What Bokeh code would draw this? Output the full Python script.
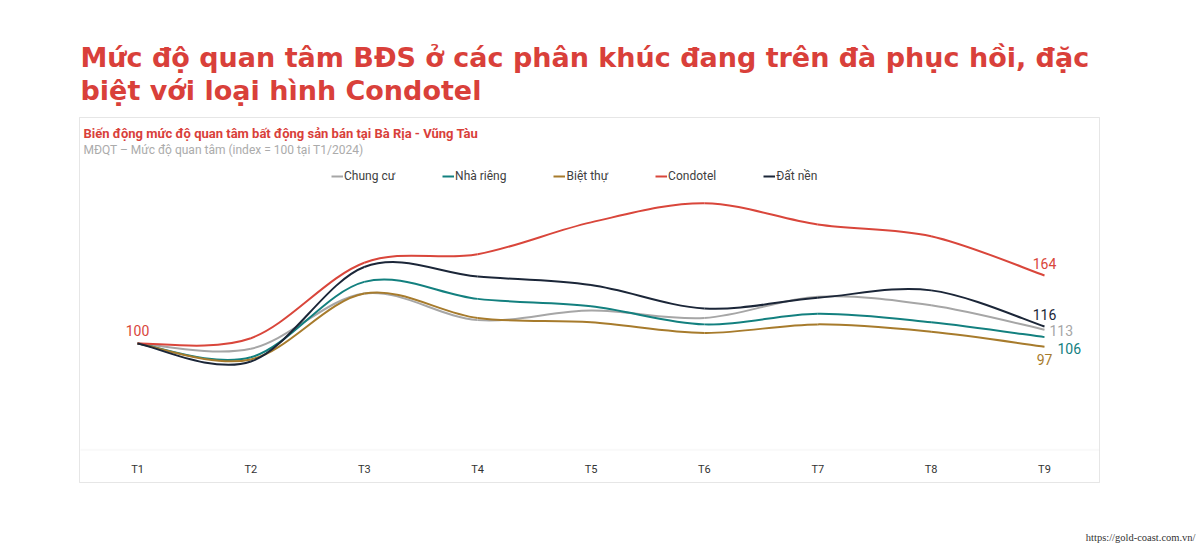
from bokeh.plotting import figure
from bokeh.models import (Range1d, LinearAxis, FixedTicker, Label, Legend,
                          LegendItem, ColumnDataSource, Title, BoxAnnotation)
from bokeh.core.properties import value
from bokeh.embed import file_html
from bokeh.resources import INLINE

# ---------------- data ----------------
months = ["T1", "T2", "T3", "T4", "T5", "T6", "T7", "T8", "T9"]
series_names = ["Chung cư", "Nhà riêng", "Biệt thự", "Condotel", "Đất nền"]
chung_cu = [100, 95, 147, 122, 131, 124, 144, 136, 113]
nha_rieng = [100, 87, 158, 142, 135, 118, 128, 120, 106]
biet_thu = [100, 85, 147, 124, 120, 110, 118, 111, 97]
condotel = [100, 105, 176, 184, 214, 232, 212, 201, 164]
dat_nen = [100, 83, 172, 163, 155, 133, 143, 150, 116]

title_lines = ["Mức độ quan tâm BĐS ở các phân khúc đang trên đà phục hồi, đặc",
               "biệt với loại hình Condotel"]
subtitle = "Biến động mức độ quan tâm bất động sản bán tại Bà Rịa - Vũng Tàu"
subtitle2 = "MĐQT – Mức độ quan tâm (index = 100 tại T1/2024)"
source_url = "https://gold-coast.com.vn/"

# ---------------- styles ----------------
colors = {"Chung cư": "#a6a6a6", "Nhà riêng": "#13807f", "Biệt thự": "#a77b2c",
          "Condotel": "#d9463b", "Đất nền": "#1b2638"}
# end-label placement (screen px offsets, alignment)
end_label_style = {
    "Condotel": (0, -12, "center"),
    "Đất nền": (0, -12, "center"),
    "Chung cư": (5, 1, "left"),
    "Nhà riêng": (13, 11, "left"),
    "Biệt thự": (0, 13, "center"),
}
RED = "#d9403a"
TITLE_FONT = "DejaVu Sans"

values = {"Chung cư": chung_cu, "Nhà riêng": nha_rieng, "Biệt thự": biet_thu,
          "Condotel": condotel, "Đất nền": dat_nen}
xs = list(range(1, len(months) + 1))

# frame covers the full width and everything below the page title
p = figure(width=1200, height=545, output_backend="svg", toolbar_location=None,
           x_axis_location=None, y_axis_location=None,
           x_range=Range1d(-0.2084, 10.376), y_range=Range1d(-90.12, 313.65),
           min_border_left=0, min_border_right=0, min_border_top=116,
           min_border_bottom=0)
p.grid.visible = False
p.outline_line_color = None
p.background_fill_color = "white"
p.border_fill_color = "white"

# chart box (screen px, frame-relative, y from bottom)
p.add_layout(BoxAnnotation(left=79, right=1099, top=428, bottom=63,
                           left_units="screen", right_units="screen",
                           top_units="screen", bottom_units="screen",
                           fill_alpha=0, line_color="#acacac", line_width=1))
# baseline at value 0 across the box width
p.add_layout(BoxAnnotation(left=80, right=1099, top=0, bottom=0,
                           left_units="screen", right_units="screen",
                           fill_alpha=0, line_color="#ebebeb", line_width=2))

# x axis placed at value 0 inside the frame
xaxis = LinearAxis(fixed_location=0, ticker=FixedTicker(ticks=xs),
                   major_label_overrides={x: m for x, m in zip(xs, months)})
xaxis.axis_line_color = None
xaxis.major_tick_line_color = None
xaxis.minor_tick_line_color = None
xaxis.major_label_standoff = 7
xaxis.major_label_text_font = "Roboto"
xaxis.major_label_text_font_size = "11px"
xaxis.major_label_text_color = "#333333"
p.add_layout(xaxis, "below")


def smooth_segments(x, y):
    """Catmull-Rom -> cubic bezier control points for a smooth line through the data."""
    n = len(x)
    seg = {k: [] for k in ["x0", "y0", "x1", "y1", "cx0", "cy0", "cx1", "cy1"]}
    for i in range(n - 1):
        xm, ym = (x[i - 1], y[i - 1]) if i > 0 else (x[i], y[i])
        xp, yp = (x[i + 2], y[i + 2]) if i + 2 < n else (x[i + 1], y[i + 1])
        seg["x0"].append(x[i]); seg["y0"].append(y[i])
        seg["x1"].append(x[i + 1]); seg["y1"].append(y[i + 1])
        seg["cx0"].append(x[i] + (x[i + 1] - xm) / 6.0)
        seg["cy0"].append(y[i] + (y[i + 1] - ym) / 6.0)
        seg["cx1"].append(x[i + 1] - (xp - x[i]) / 6.0)
        seg["cy1"].append(y[i + 1] - (yp - y[i]) / 6.0)
    return seg


items = []
for name in series_names:
    src = ColumnDataSource(smooth_segments(xs, values[name]))
    r = p.bezier(x0="x0", y0="y0", x1="x1", y1="y1", cx0="cx0", cy0="cy0",
                 cx1="cx1", cy1="cy1", source=src, line_color=colors[name],
                 line_width=2)
    items.append(LegendItem(label=name, renderers=[r]))
    dx, dy, al = end_label_style[name]
    p.text(x=[xs[-1]], y=[values[name][-1]], text=[str(values[name][-1])],
           x_offset=dx, y_offset=dy, text_align=al, text_baseline="middle",
           text_font=value("Roboto"), text_font_size="14px",
           text_color=colors[name])

# start label
p.text(x=[xs[0]], y=[condotel[0]], text=[str(condotel[0])], y_offset=-13,
       text_align="center", text_baseline="middle", text_font=value("Roboto"),
       text_font_size="14px", text_color=colors["Condotel"])

legend = Legend(items=items, orientation="horizontal", location=(331, 361),
                spacing=47, glyph_width=12, glyph_height=16, label_standoff=1,
                label_height=16, label_width=10, padding=0, margin=0,
                border_line_color=None, background_fill_alpha=0,
                label_text_font="Roboto", label_text_font_size="12px",
                label_text_color="#404040")
p.add_layout(legend, "center")

# page title (two lines, nearest-to-frame first)
p.add_layout(Title(text=title_lines[1], align="left", offset=80, standoff=22,
                   text_font=TITLE_FONT, text_font_style="bold",
                   text_font_size="27px", text_color=RED), "above")
p.add_layout(Title(text=title_lines[0], align="left", offset=80, standoff=-23,
                   text_font=TITLE_FONT, text_font_style="bold",
                   text_font_size="27px", text_color=RED), "above")

# chart texts inside the box + source (screen px, frame-relative, y from bottom)
p.add_layout(Label(x=83, y=412, x_units="screen", y_units="screen", text=subtitle,
                   text_font="Roboto", text_font_style="bold", text_font_size="13px",
                   text_color=RED, text_baseline="alphabetic"))
p.add_layout(Label(x=83, y=396, x_units="screen", y_units="screen", text=subtitle2,
                   text_font="Roboto", text_font_size="12px",
                   text_color="#ababab", text_baseline="alphabetic"))
p.add_layout(Label(x=1195, y=8, x_units="screen", y_units="screen", text=source_url,
                   text_align="right", text_font="Liberation Serif",
                   text_font_size="10.5px", text_color="#333333",
                   text_baseline="alphabetic"))

open("out.html", "w").write(file_html(p, INLINE))
